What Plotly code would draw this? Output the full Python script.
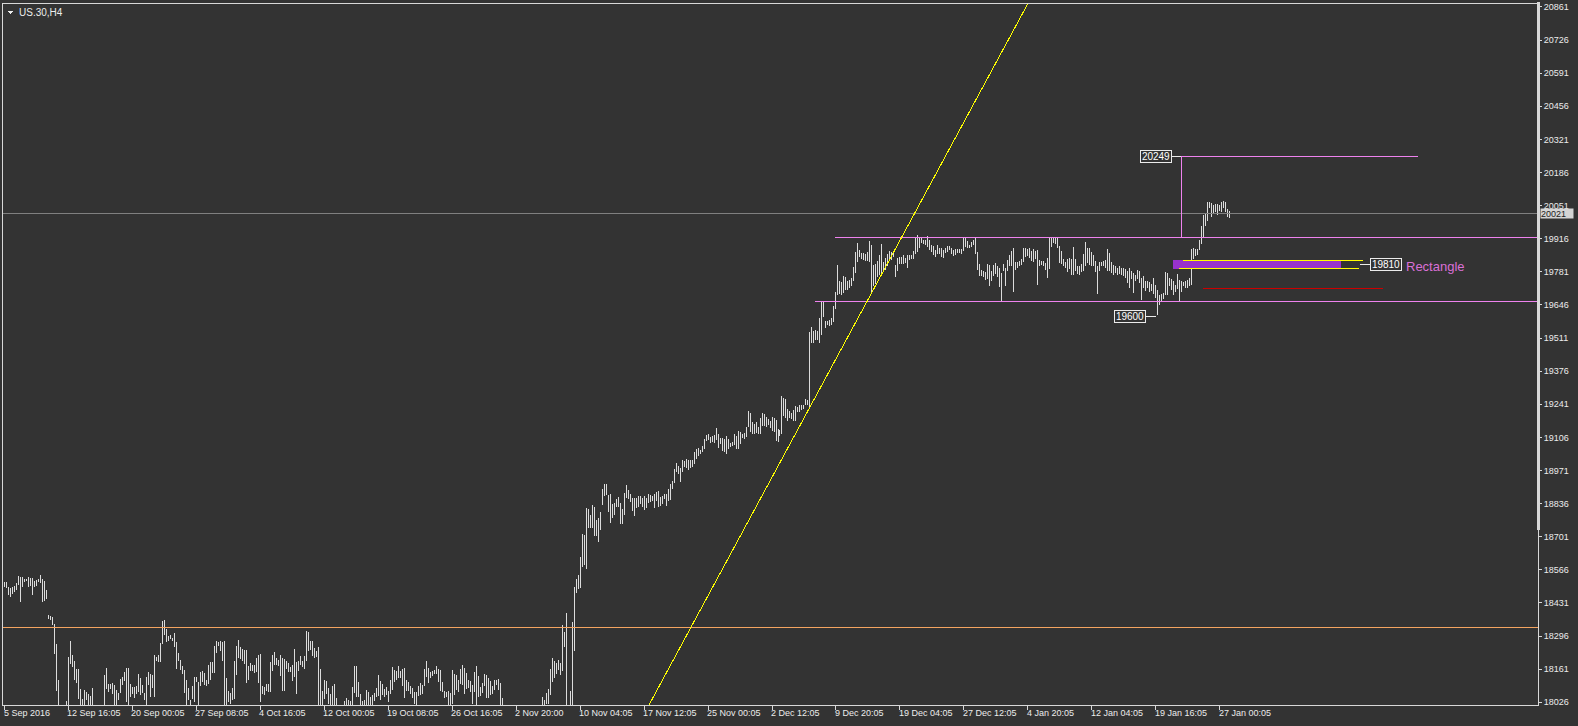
import plotly.graph_objects as go

# ---------------- data ----------------
bar_high = [
    18518, 18518, 18495, 18491, 18495, 18501, 18511, 18542, 18535, 18535,
    18528, 18528, 18538, 18533, 18533, 18522, 18524, 18528, 18546, 18528,
    18519, 18484, 18383, 18379, 18375, 18346, 18262, 18115, 18000, 17995,
    18005, 18030, 18210, 18275, 18217, 18194, 18163, 18163, 18081, 18041,
    18075, 18068, 18058, 18050, 18084, 18005, 18000, 17995, 18005, 18010,
    18136, 18167, 18102, 18099, 18104, 18095, 18075, 18064, 18119, 18129,
    18149, 18167, 18167, 18102, 18088, 18088, 18091, 18142, 18126, 18095,
    18064, 18129, 18149, 18140, 18136, 18220, 18210, 18217, 18267, 18359,
    18362, 18325, 18298, 18302, 18289, 18308, 18271, 18226, 18199, 18172,
    18159, 18115, 18085, 18037, 18091, 18131, 18129, 18108, 18149, 18153,
    18145, 18118, 18180, 18190, 18192, 18257, 18277, 18271, 18275, 18271,
    18277, 18126, 18074, 18063, 18085, 18196, 18257, 18280, 18253, 18244,
    18239, 18239, 18176, 18185, 18180, 18180, 18207, 18220, 18223, 18094,
    18090, 18099, 18099, 18189, 18220, 18230, 18207, 18199, 18220, 18207,
    18203, 18193, 18185, 18169, 18180, 18244, 18189, 18193, 18216, 18196,
    18216, 18318, 18311, 18275, 18275, 18248, 18234, 18250, 18162, 18071,
    18118, 18112, 18085, 18058, 18094, 18101, 18044, 18005, 18000, 18008,
    18031, 18044, 18034, 18031, 18088, 18172, 18172, 18108, 18058, 18031,
    18036, 18077, 18066, 18047, 18054, 18063, 18085, 18139, 18112, 18101,
    18081, 18090, 18074, 18118, 18169, 18158, 18155, 18176, 18153, 18162,
    18166, 18118, 18108, 18094, 18085, 18067, 18068, 18091, 18105, 18095,
    18163, 18194, 18167, 18149, 18153, 18159, 18172, 18163, 18159, 18109,
    18072, 18068, 18072, 18064, 18156, 18142, 18136, 18115, 18163, 18180,
    18167, 18145, 18118, 18113, 18095, 18149, 18172, 18132, 18088, 18105,
    18142, 18136, 18126, 18113, 18091, 18115, 18118, 18122, 18105, 18045,
    18000, 17995, 17990, 18005, 17985, 17975, 17990, 18000, 17980, 17970,
    17985, 17995, 18005, 17990, 17980, 17975, 17985, 17995, 18005, 18048,
    18034, 18064, 18082, 18163, 18208, 18194, 18186, 18199, 18186, 18343,
    18312, 18389, 18000, 18072, 18353, 18495, 18529, 18546, 18619, 18712,
    18709, 18820, 18813, 18790, 18831, 18823, 18769, 18777, 18800, 18895,
    18918, 18915, 18871, 18877, 18836, 18840, 18854, 18863, 18840, 18814,
    18881, 18912, 18891, 18877, 18858, 18858, 18858, 18868, 18868, 18858,
    18868, 18861, 18877, 18872, 18868, 18877, 18885, 18888, 18864, 18868,
    18877, 18877, 18895, 18918, 18929, 18976, 19003, 18990, 18983, 19013,
    19010, 19017, 19013, 19013, 19013, 19048, 19057, 19062, 19053, 19071,
    19098, 19116, 19118, 19108, 19112, 19116, 19143, 19118, 19105, 19102,
    19098, 19112, 19098, 19085, 19089, 19118, 19112, 19132, 19129, 19121,
    19125, 19148, 19213, 19206, 19170, 19162, 19170, 19148, 19186, 19206,
    19202, 19189, 19183, 19175, 19189, 19186, 19179, 19139, 19135, 19274,
    19265, 19261, 19220, 19213, 19206, 19216, 19234, 19230, 19240, 19238,
    19240, 19261, 19257, 19536, 19555, 19541, 19545, 19538, 19593, 19663,
    19663, 19582, 19582, 19586, 19593, 19640, 19699, 19810, 19742, 19739,
    19766, 19762, 19745, 19749, 19758, 19799, 19861, 19898, 19871, 19857,
    19857, 19853, 19861, 19905, 19891, 19810, 19813, 19826, 19850, 19894,
    19823, 19837, 19853, 19867, 19864, 19861, 19810, 19837, 19840, 19840,
    19850, 19837, 19850, 19850, 19850, 19867, 19925, 19932, 19918, 19918,
    19911, 19911, 19929, 19911, 19891, 19888, 19871, 19891, 19880, 19878,
    19871, 19880, 19888, 19888, 19878, 19871, 19875, 19875, 19875, 19875,
    19921, 19921, 19905, 19891, 19902, 19911, 19921, 19861, 19813, 19790,
    19783, 19780, 19813, 19810, 19783, 19810, 19817, 19803, 19796, 19776,
    19813, 19796, 19830, 19850, 19867, 19878, 19823, 19823, 19826, 19834,
    19878, 19880, 19875, 19878, 19867, 19875, 19867, 19871, 19830, 19826,
    19826, 19816, 19839, 19918, 19918, 19918, 19918, 19918, 19888, 19867,
    19834, 19821, 19834, 19839, 19834, 19884, 19834, 19807, 19803, 19812,
    19853, 19902, 19880, 19877, 19861, 19848, 19826, 19807, 19823, 19823,
    19826, 19830, 19875, 19857, 19823, 19810, 19803, 19796, 19807, 19796,
    19796, 19793, 19783, 19796, 19785, 19776, 19769, 19789, 19783, 19758,
    19766, 19745, 19742, 19739, 19731, 19755, 19726, 19708, 19688, 19690,
    19694, 19780, 19776, 19758, 19753, 19742, 19726, 19772, 19749, 19745,
    19739, 19745, 19749, 19755, 19875, 19880, 19875, 19875, 19911, 19969,
    20013, 20016, 20064, 20067, 20060, 20053, 20056, 20056, 20053, 20064,
    20070, 20064, 20037, 20029,
]
bar_low = [
    18497, 18491, 18465, 18457, 18468, 18474, 18484, 18504, 18434, 18495,
    18518, 18519, 18497, 18501, 18465, 18497, 18501, 18515, 18512, 18434,
    18438, 18447, 18366, 18362, 18343, 18224, 18072, 17990, 17950, 17945,
    17955, 17990, 17990, 18183, 18169, 18115, 18104, 18041, 17990, 17990,
    17990, 18034, 17990, 17990, 17990, 17960, 17950, 17945, 17955, 17960,
    17990, 18081, 18068, 18081, 18061, 17990, 17990, 18037, 18064, 18095,
    18112, 18027, 17990, 18047, 18061, 18045, 18058, 18068, 18057, 18064,
    18034, 17990, 18095, 18047, 18085, 18047, 18196, 18190, 18190, 18264,
    18302, 18271, 18278, 18285, 18275, 18251, 18163, 18196, 18156, 18142,
    18064, 17990, 18034, 17990, 18041, 18027, 18108, 17990, 18091, 18108,
    18095, 18091, 18102, 18115, 18145, 18145, 18226, 18257, 18234, 18193,
    17990, 17990, 18027, 18020, 18034, 18040, 18139, 18207, 18203, 18196,
    18183, 18104, 18115, 18153, 18155, 18145, 18149, 18104, 18027, 18058,
    18054, 18074, 18067, 18067, 18153, 18180, 18180, 18176, 18135, 18071,
    18071, 18162, 18149, 18149, 18112, 18128, 18058, 18153, 18180, 18169,
    18162, 18196, 18234, 18239, 18216, 18207, 18210, 17990, 17990, 17990,
    18039, 18058, 18020, 18017, 17990, 17990, 17990, 17950, 17945, 17955,
    17990, 17990, 17990, 17990, 17990, 18063, 18047, 18047, 17990, 17990,
    17990, 17990, 18017, 17990, 18017, 18031, 18047, 18050, 18034, 18054,
    18047, 18054, 18027, 18058, 18077, 18108, 18115, 18126, 18126, 18094,
    18044, 18074, 18071, 18061, 18044, 18020, 17990, 18050, 18054, 18059,
    18091, 18129, 18105, 18126, 18132, 18140, 18142, 18109, 18072, 18068,
    18045, 18048, 18014, 17990, 18021, 18054, 18078, 18068, 18102, 18095,
    18061, 18082, 18086, 18068, 18021, 18068, 18014, 18048, 18050, 18064,
    18091, 18045, 18045, 18054, 18059, 18078, 18095, 18078, 17990, 17990,
    17940, 17935, 17930, 17945, 17925, 17915, 17930, 17940, 17920, 17910,
    17925, 17935, 17945, 17930, 17920, 17915, 17925, 17935, 17945, 17990,
    17990, 18018, 18018, 18054, 18109, 18126, 18142, 18156, 18136, 18153,
    18251, 17990, 17500, 17990, 17990, 18237, 18470, 18488, 18492, 18576,
    18587, 18569, 18736, 18736, 18736, 18705, 18705, 18678, 18728, 18831,
    18867, 18871, 18800, 18759, 18779, 18790, 18823, 18823, 18752, 18755,
    18790, 18861, 18854, 18841, 18807, 18786, 18820, 18823, 18834, 18823,
    18810, 18820, 18837, 18841, 18845, 18820, 18845, 18823, 18827, 18834,
    18854, 18827, 18847, 18850, 18895, 18922, 18967, 18956, 18926, 18963,
    18986, 18980, 18972, 18983, 18986, 18999, 19017, 19030, 19037, 19048,
    19057, 19091, 19094, 19085, 19089, 19085, 19094, 19064, 19080, 19051,
    19048, 19040, 19057, 19067, 19071, 19075, 19057, 19057, 19080, 19105,
    19098, 19108, 19148, 19129, 19121, 19118, 19125, 19118, 19118, 19152,
    19152, 19148, 19156, 19146, 19132, 19129, 19091, 19089, 19112, 19118,
    19193, 19186, 19175, 19186, 19183, 19175, 19175, 19211, 19211, 19216,
    19220, 19238, 19240, 19227, 19491, 19491, 19505, 19505, 19491, 19522,
    19595, 19552, 19563, 19559, 19565, 19575, 19631, 19685, 19691, 19685,
    19695, 19708, 19708, 19715, 19722, 19745, 19776, 19823, 19840, 19834,
    19830, 19826, 19826, 19821, 19691, 19722, 19731, 19762, 19769, 19776,
    19785, 19790, 19803, 19826, 19830, 19840, 19762, 19785, 19813, 19813,
    19813, 19817, 19796, 19830, 19834, 19834, 19853, 19864, 19878, 19898,
    19894, 19891, 19884, 19871, 19861, 19850, 19840, 19853, 19853, 19840,
    19837, 19857, 19861, 19871, 19853, 19844, 19850, 19857, 19857, 19853,
    19867, 19884, 19878, 19878, 19884, 19891, 19853, 19790, 19766, 19766,
    19762, 19749, 19753, 19722, 19745, 19766, 19772, 19762, 19718, 19661,
    19785, 19722, 19783, 19803, 19803, 19699, 19790, 19796, 19807, 19810,
    19823, 19840, 19844, 19837, 19826, 19821, 19834, 19728, 19803, 19810,
    19803, 19789, 19755, 19793, 19884, 19898, 19894, 19880, 19816, 19812,
    19803, 19796, 19780, 19793, 19769, 19769, 19783, 19772, 19769, 19780,
    19785, 19807, 19816, 19810, 19807, 19803, 19780, 19690, 19785, 19807,
    19803, 19796, 19785, 19785, 19776, 19769, 19776, 19769, 19772, 19769,
    19766, 19758, 19735, 19715, 19753, 19694, 19742, 19753, 19735, 19667,
    19715, 19704, 19715, 19698, 19704, 19690, 19674, 19604, 19647, 19663,
    19671, 19685, 19685, 19722, 19708, 19688, 19698, 19712, 19661, 19698,
    19722, 19715, 19717, 19722, 19728, 19834, 19844, 19850, 19871, 19894,
    19925, 19969, 19988, 20040, 20006, 20016, 20026, 20013, 20029, 20024,
    20043, 20024, 20006, 20002,
]
assert len(bar_high) == len(bar_low)

y_ticks = [18026, 18161, 18296, 18431, 18566, 18701, 18836, 18971, 19106, 19241,
           19376, 19511, 19646, 19781, 19916, 20051, 20186, 20321, 20456, 20591,
           20726, 20861]
x_tick_bars = [0, 32, 64, 96, 128, 160, 192, 224, 256, 288, 320, 352, 384, 416,
               448, 480, 512, 544, 576, 608]
x_tick_labels = ["5 Sep 2016", "12 Sep 16:05", "20 Sep 00:05", "27 Sep 08:05",
                 "4 Oct 16:05", "12 Oct 00:05", "19 Oct 08:05", "26 Oct 16:05",
                 "2 Nov 20:00", "10 Nov 04:05", "17 Nov 12:05", "25 Nov 00:05",
                 "2 Dec 12:05", "9 Dec 20:05", "19 Dec 04:05", "27 Dec 12:05",
                 "4 Jan 20:05", "12 Jan 04:05", "19 Jan 16:05", "27 Jan 00:05"]

symbol_title = "US.30,H4"
last_price = 20021
orange_level = 18333
range_top_level = 19921
range_bottom_level = 19660
target_level = 20250
target_label = "20249"
low_label = "19600"
low_level = 19600
rect_label = "19810"
rect_level = 19810
rect_text = "Rectangle"
rect_top, rect_bottom = 19828, 19793
red_level = 19714
trend_x = [322.45, 511.9]
trend_y = [18015, 20873]

# ---------------- layout geometry ----------------
W, H = 1578, 726
PL, PR, PT, PB = 2, 1538, 2, 705
Y_MIN, Y_MAX = 18015, 20873.2
X_MIN = -0.75
X_MAX = X_MIN + (PR - PL) / 2.0

BG = "#333333"
FG = "#ececec"
BAR = "#dcdcdc"
VIOLET = "#EE82EE"
FONT = "Liberation Sans, Arial, sans-serif"


def px_x(p):
    return (p - PL) / (PR - PL)


def px_y(p):
    return (PB - p) / (PB - PT)


xs, ys = [], []
for i, (h, l) in enumerate(zip(bar_high, bar_low)):
    xs += [i, i, None]
    ys += [l, h, None]

fig = go.Figure()
fig.add_trace(go.Scatter(x=xs, y=ys, mode="lines",
                         line=dict(color=BAR, width=1),
                         hoverinfo="skip", showlegend=False))

shapes = []


def hline(y, x0, x1, color, xref="x"):
    shapes.append(dict(type="line", xref=xref, yref="y", x0=x0, x1=x1, y0=y, y1=y,
                       line=dict(color=color, width=1)))


# full-width levels
hline(orange_level, 0, 1, "#F4A460", xref="paper")
hline(last_price, 0, 1, "#808080", xref="paper")
# range lines
hline(range_top_level, 415.75, X_MAX + 5, VIOLET)
hline(range_bottom_level, 405.75, X_MAX + 5, VIOLET)
# target projection
hline(target_level, 588.75, 707.1, VIOLET)
shapes.append(dict(type="line", xref="x", yref="y", x0=588.75, x1=588.75,
                   y0=range_top_level, y1=target_level,
                   line=dict(color=VIOLET, width=1)))
# trend line
shapes.append(dict(type="line", xref="x", yref="y", x0=trend_x[0], x1=trend_x[1],
                   y0=trend_y[0], y1=trend_y[1], line=dict(color="#FFFF00", width=1)))
# rectangle object
shapes.append(dict(type="rect", xref="x", yref="y", x0=584.75, x1=668.6,
                   y0=rect_bottom, y1=rect_top, fillcolor="#9932CC", line=dict(width=0)))
hline(rect_top, 589.75, 679.6, "#FFFF00")
hline(rect_bottom + 1, 587.75, 677.6, "#FFFF00")
hline(red_level, 599.75, 689.6, "#CC0000")
# label connectors
hline(target_level, 584.3, 588.75, FG)
hline(low_level, 571.0, 576.3, FG)
hline(rect_level, 678.25, 683.25, FG)

# right frame bar
shapes.append(dict(type="rect", xref="paper", yref="paper", x0=px_x(1537), x1=px_x(1540.5),
                   y0=px_y(530), y1=px_y(0), fillcolor="#d8d8d8", line=dict(width=0)))
# title triangle
shapes.append(dict(type="path", xref="paper", yref="paper",
                   path="M %f,%f L %f,%f L %f,%f Z" % (px_x(6.5), px_y(9), px_x(12.5), px_y(9),
                                                        px_x(9.5), px_y(12.5)),
                   fillcolor=FG, line=dict(width=0)))

annotations = []
for b, t in zip(x_tick_bars, x_tick_labels):
    annotations.append(dict(x=b, y=0, xref="x", yref="paper", text=t, showarrow=False,
                            xanchor="left", yanchor="middle", yshift=-8, xshift=-3,
                            font=dict(family=FONT, size=9, color=FG)))

annotations.append(dict(x=px_x(16), y=px_y(10.5), xref="paper", yref="paper",
                        text=symbol_title, showarrow=False, xanchor="left", yanchor="middle",
                        font=dict(family=FONT, size=10, color=FG)))

# price label boxes
box = dict(showarrow=False, bgcolor=BG, bordercolor=FG, borderwidth=1, borderpad=0,
           font=dict(family=FONT, size=10, color="#ffffff"), height=11, width=30)
annotations.append(dict(box, x=584.3, y=target_level, xref="x", yref="y",
                        text=target_label, xanchor="right", yanchor="middle"))
annotations.append(dict(box, x=571.0, y=low_level, xref="x", yref="y",
                        text=low_label, xanchor="right", yanchor="middle"))
annotations.append(dict(box, x=683.25, y=rect_level, xref="x", yref="y",
                        text=rect_label, xanchor="left", yanchor="middle"))
annotations.append(dict(x=700.0, y=rect_level - 6, xref="x", yref="y", text=rect_text,
                        showarrow=False, xanchor="left", yanchor="middle",
                        font=dict(family=FONT, size=13, color="#DA70D6")))
# last price tag on axis
annotations.append(dict(x=px_x(1540), y=last_price, xref="paper", yref="y",
                        text=str(last_price), showarrow=False, xanchor="left",
                        yanchor="middle", bgcolor="#d4d4d4", borderpad=0,
                        width=32, height=9, align="left",
                        font=dict(family=FONT, size=9, color="#202020")))

fig.update_layout(
    width=W, height=H,
    margin=dict(l=PL, r=W - PR, t=PT, b=H - PB, pad=0),
    paper_bgcolor=BG, plot_bgcolor=BG,
    showlegend=False,
    shapes=shapes,
    annotations=annotations,
    xaxis=dict(range=[X_MIN, X_MAX], showgrid=False, zeroline=False,
               showline=True, mirror=True, linecolor="#d8d8d8", linewidth=1,
               tickvals=x_tick_bars, ticks="outside", ticklen=4, tickcolor="#d8d8d8",
               showticklabels=False, fixedrange=True),
    yaxis=dict(range=[Y_MIN, Y_MAX], side="right", showgrid=False, zeroline=False,
               showline=True, mirror=True, linecolor="#d8d8d8", linewidth=1,
               tickvals=y_ticks, ticktext=[str(v) for v in y_ticks],
               ticks="outside", ticklen=3, tickcolor="#d8d8d8",
               tickfont=dict(family=FONT, size=9, color=FG), fixedrange=True),
)

post_js = (
    "document.body.style.margin='0px';"
    "document.body.style.overflow='hidden';"
    "var st=document.createElement('style');"
    "st.innerHTML='path{shape-rendering:crispEdges;}';"
    "document.head.appendChild(st);"
)
fig.write_html("out.html", config={"displayModeBar": False}, post_script=post_js)
